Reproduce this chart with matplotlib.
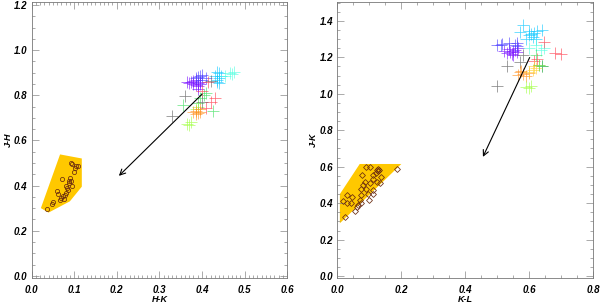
#!/usr/bin/env python3

import matplotlib
matplotlib.use("Agg")
import matplotlib.pyplot as plt
from matplotlib.patches import Polygon
from matplotlib.ticker import MultipleLocator

# ---- left panel: H-K vs J-H ----
hk_poly = [0.022, 0.040, 0.090, 0.118, 0.118, 0.067]
jh_poly = [0.300, 0.280, 0.330, 0.395, 0.520, 0.538]

hk_dots = [0.036, 0.047, 0.050, 0.059, 0.062, 0.067, 0.070, 0.074, 0.078, 0.082,
           0.086, 0.071, 0.088, 0.090, 0.093, 0.092, 0.096, 0.101, 0.104, 0.110,
           0.099, 0.087, 0.081, 0.095, 0.076, 0.084]
jh_dots = [0.296, 0.319, 0.325, 0.378, 0.362, 0.337, 0.344, 0.352, 0.358, 0.366,
           0.382, 0.428, 0.410, 0.435, 0.418, 0.502, 0.495, 0.478, 0.486, 0.487,
           0.462, 0.420, 0.398, 0.400, 0.340, 0.390]

hk_cross = {
    "#7a10ff": ([0.375, 0.380, 0.385, 0.390, 0.395, 0.385, 0.390, 0.380, 0.395, 0.370, 0.390, 0.365],
                [0.860, 0.850, 0.845, 0.855, 0.860, 0.870, 0.840, 0.865, 0.850, 0.855, 0.830, 0.860]),
    "#4a3cff": ([0.390, 0.395, 0.400, 0.385, 0.400, 0.410],
                [0.880, 0.885, 0.890, 0.875, 0.870, 0.875]),
    "#10c8ff": ([0.435, 0.440, 0.435, 0.430, 0.440, 0.445, 0.435, 0.440],
                [0.870, 0.875, 0.860, 0.885, 0.900, 0.885, 0.905, 0.855]),
    "#50ffe0": ([0.465, 0.470, 0.455, 0.475],
                [0.900, 0.895, 0.885, 0.905]),
    "#40e060": ([0.355, 0.395, 0.405, 0.390, 0.410, 0.425],
                [0.755, 0.790, 0.800, 0.765, 0.810, 0.730]),
    "#a0ff40": ([0.365, 0.370, 0.375, 0.385, 0.390],
                [0.675, 0.670, 0.680, 0.740, 0.750]),
    "#ff9020": ([0.385, 0.390, 0.395, 0.385, 0.380, 0.395],
                [0.730, 0.720, 0.725, 0.715, 0.725, 0.740]),
    "#ff4050": ([0.430, 0.410, 0.420, 0.400, 0.415],
                [0.790, 0.745, 0.770, 0.820, 0.860]),
    "#606060": ([0.360, 0.330, 0.420, 0.400],
                [0.795, 0.710, 0.865, 0.770]),
}

# ---- right panel: K-L vs J-K ----
kl_poly = [0.008, 0.008, 0.070, 0.200]
jk_poly = [0.290, 0.450, 0.615, 0.615]

kl_dots = [0.024, 0.017, 0.031, 0.031, 0.045, 0.043, 0.055, 0.065, 0.070, 0.075,
           0.073, 0.081, 0.076, 0.090, 0.103, 0.085, 0.090, 0.095, 0.100, 0.110,
           0.112, 0.102, 0.113, 0.110, 0.120, 0.125, 0.127, 0.129, 0.127, 0.123,
           0.133, 0.138, 0.186, 0.060, 0.075]
jk_dots = [0.325, 0.413, 0.444, 0.400, 0.435, 0.400, 0.358, 0.390, 0.420, 0.446,
           0.478, 0.499, 0.554, 0.600, 0.600, 0.517, 0.480, 0.452, 0.420, 0.452,
           0.470, 0.508, 0.530, 0.554, 0.568, 0.580, 0.588, 0.584, 0.575, 0.517,
           0.508, 0.544, 0.590, 0.380, 0.400]

kl_cross = {
    "#7a10ff": ([0.540, 0.550, 0.545, 0.530, 0.555, 0.560, 0.535, 0.550, 0.565, 0.520],
                [1.230, 1.235, 1.220, 1.225, 1.240, 1.230, 1.245, 1.215, 1.250, 1.235]),
    "#4a3cff": ([0.500, 0.510, 0.515, 0.555, 0.560, 0.560, 0.535],
                [1.270, 1.265, 1.275, 1.270, 1.280, 1.260, 1.280]),
    "#10c8ff": ([0.600, 0.605, 0.610, 0.600, 0.615, 0.620, 0.580, 0.640, 0.625, 0.590, 0.570],
                [1.320, 1.330, 1.310, 1.345, 1.335, 1.300, 1.375, 1.350, 1.345, 1.300, 1.340]),
    "#50ffe0": ([0.635, 0.645, 0.620, 0.600],
                [1.240, 1.250, 1.270, 1.250]),
    "#ff4050": ([0.680, 0.700, 0.625, 0.615, 0.645],
                [1.225, 1.220, 1.190, 1.180, 1.285]),
    "#606060": ([0.530, 0.500, 0.570, 0.580, 0.640],
                [1.155, 1.040, 1.175, 1.210, 1.150]),
    "#ff9020": ([0.570, 0.580, 0.590, 0.575, 0.600, 0.565],
                [1.120, 1.110, 1.100, 1.125, 1.115, 1.105]),
    "#ffd030": ([0.620, 0.615, 0.630, 0.610, 0.600],
                [1.140, 1.150, 1.160, 1.130, 1.120]),
    "#a0ff40": ([0.600, 0.590, 0.605],
                [1.030, 1.035, 1.040]),
    "#40e060": ([0.630, 0.620, 0.640],
                [1.160, 1.210, 1.150]),
}

# reddening vectors (start, end)
hk_arrow = [0.40, 0.205]
jh_arrow = [0.805, 0.443]
kl_arrow = [0.601, 0.455]
jk_arrow = [1.199, 0.654]

FONT = dict(family="Liberation Sans", weight="bold", style="italic", size=7)
LABEL_FONT = dict(family="Liberation Sans", weight="bold", style="italic", size=6.5)


def style_axes(ax, xmax, xmaj, xmin, ylim, ymaj, ymin):
    ax.set_xlim(0, xmax)
    ax.set_ylim(*ylim)
    ax.xaxis.set_major_locator(MultipleLocator(xmaj))
    ax.xaxis.set_minor_locator(MultipleLocator(xmin))
    ax.yaxis.set_major_locator(MultipleLocator(ymaj))
    ax.yaxis.set_minor_locator(MultipleLocator(ymin))
    ax.tick_params(which="both", direction="in", top=True, right=True,
                   width=0.5, color="#888888")
    ax.tick_params(which="major", length=5)
    ax.tick_params(which="minor", length=2.5)
    ax.tick_params(axis="x", pad=5)
    ax.tick_params(axis="y", pad=3)
    for sp in ax.spines.values():
        sp.set_linewidth(0.6)
        sp.set_color("#777777")
    for lab in ax.get_xticklabels() + ax.get_yticklabels():
        lab.set_fontproperties(matplotlib.font_manager.FontProperties(**FONT))
    ax.xaxis.set_major_formatter(matplotlib.ticker.FormatStrFormatter("%.1f"))
    ax.yaxis.set_major_formatter(matplotlib.ticker.FormatStrFormatter("%.1f"))


def draw_panel(ax, px, py, dx, dy, crosses, arrow_x, arrow_y, marker):
    ax.add_patch(Polygon(list(zip(px, py)), closed=True, facecolor="#ffc800",
                         edgecolor="none", zorder=1))
    ax.plot(dx, dy, linestyle="none", marker=marker, ms=3.0, mfc="none",
            mec="#6a2a10", mew=0.55, zorder=2)
    for col, (cx, cy) in crosses.items():
        ax.plot(cx, cy, linestyle="none", marker="+", ms=8, mew=0.55,
                color=col, alpha=0.75, zorder=3)
    ax.annotate("", xy=(arrow_x[1], arrow_y[1]), xytext=(arrow_x[0], arrow_y[0]),
                arrowprops=dict(arrowstyle="->", lw=0.8, color="black",
                                shrinkA=0, shrinkB=0, mutation_scale=10),
                zorder=4)


fig = plt.figure(figsize=(6, 3.08), dpi=100)
ax1 = fig.add_axes([0.0525, 0.0958, 0.4263, 0.8987])
ax2 = fig.add_axes([0.5622, 0.0958, 0.4267, 0.8987])

draw_panel(ax1, hk_poly, jh_poly, hk_dots, jh_dots, hk_cross, hk_arrow, jh_arrow, "o")
draw_panel(ax2, kl_poly, jk_poly, kl_dots, jk_dots, kl_cross, kl_arrow, jk_arrow, "D")

style_axes(ax1, 0.6, 0.1, 0.01, (-0.012, 1.215), 0.2, 0.05)
style_axes(ax2, 0.8, 0.2, 0.05, (-0.013, 1.505), 0.2, 0.05)

ax1.set_xlabel("H-K", fontdict=LABEL_FONT, labelpad=0)
ax1.set_ylabel("J-H", fontdict=LABEL_FONT, labelpad=1)
ax2.set_xlabel("K-L", fontdict=LABEL_FONT, labelpad=0)
ax2.set_ylabel("J-K", fontdict=LABEL_FONT, labelpad=1)

fig.savefig("out.png", dpi=100)
